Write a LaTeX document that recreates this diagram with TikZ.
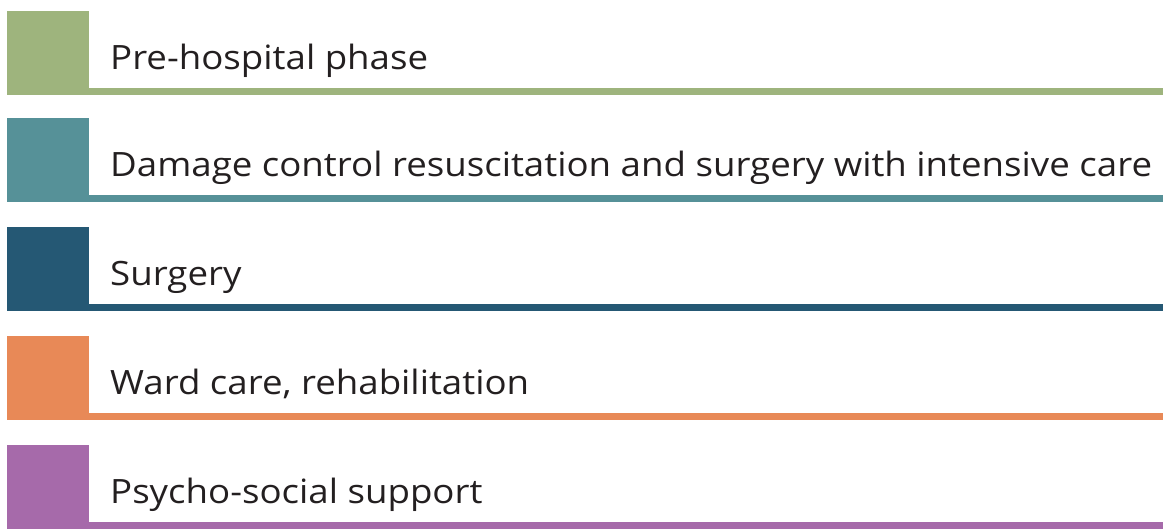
\documentclass[tikz,border=0pt]{standalone}
\usepackage{fontspec}
\setmainfont{Open Sans}[FakeStretch=1.094]
\definecolor{cgreen}{RGB}{158,180,125}
\definecolor{cteal}{RGB}{86,145,152}
\definecolor{cblue}{RGB}{37,88,116}
\definecolor{corange}{RGB}{232,137,87}
\definecolor{cpurple}{RGB}{166,106,170}
\definecolor{ctext}{RGB}{35,31,32}
\begin{document}
\begin{tikzpicture}[x=1pt,y=-1pt,
  lbl/.style={anchor=base west,inner sep=0pt,font=\fontsize{33.5}{40}\selectfont,text=ctext}]
\useasboundingbox (0,0) rectangle (1163,528);
\foreach \y/\c/\t [count=\i] in {11/cgreen/Pre-hospital phase,
  118/cteal/Damage control resuscitation and surgery with intensive care,
  227/cblue/Surgery,
  336/corange/{Ward care, rehabilitation},
  445/cpurple/Psycho-social support}{
  \fill[\c] (7,\y) rectangle (89,\y+84);
  \fill[\c] (89,\y+77) rectangle (1163,\y+84);
  \node[lbl] (t\i) at (110,\y+58) {\t};
}
\end{tikzpicture}
\end{document}
